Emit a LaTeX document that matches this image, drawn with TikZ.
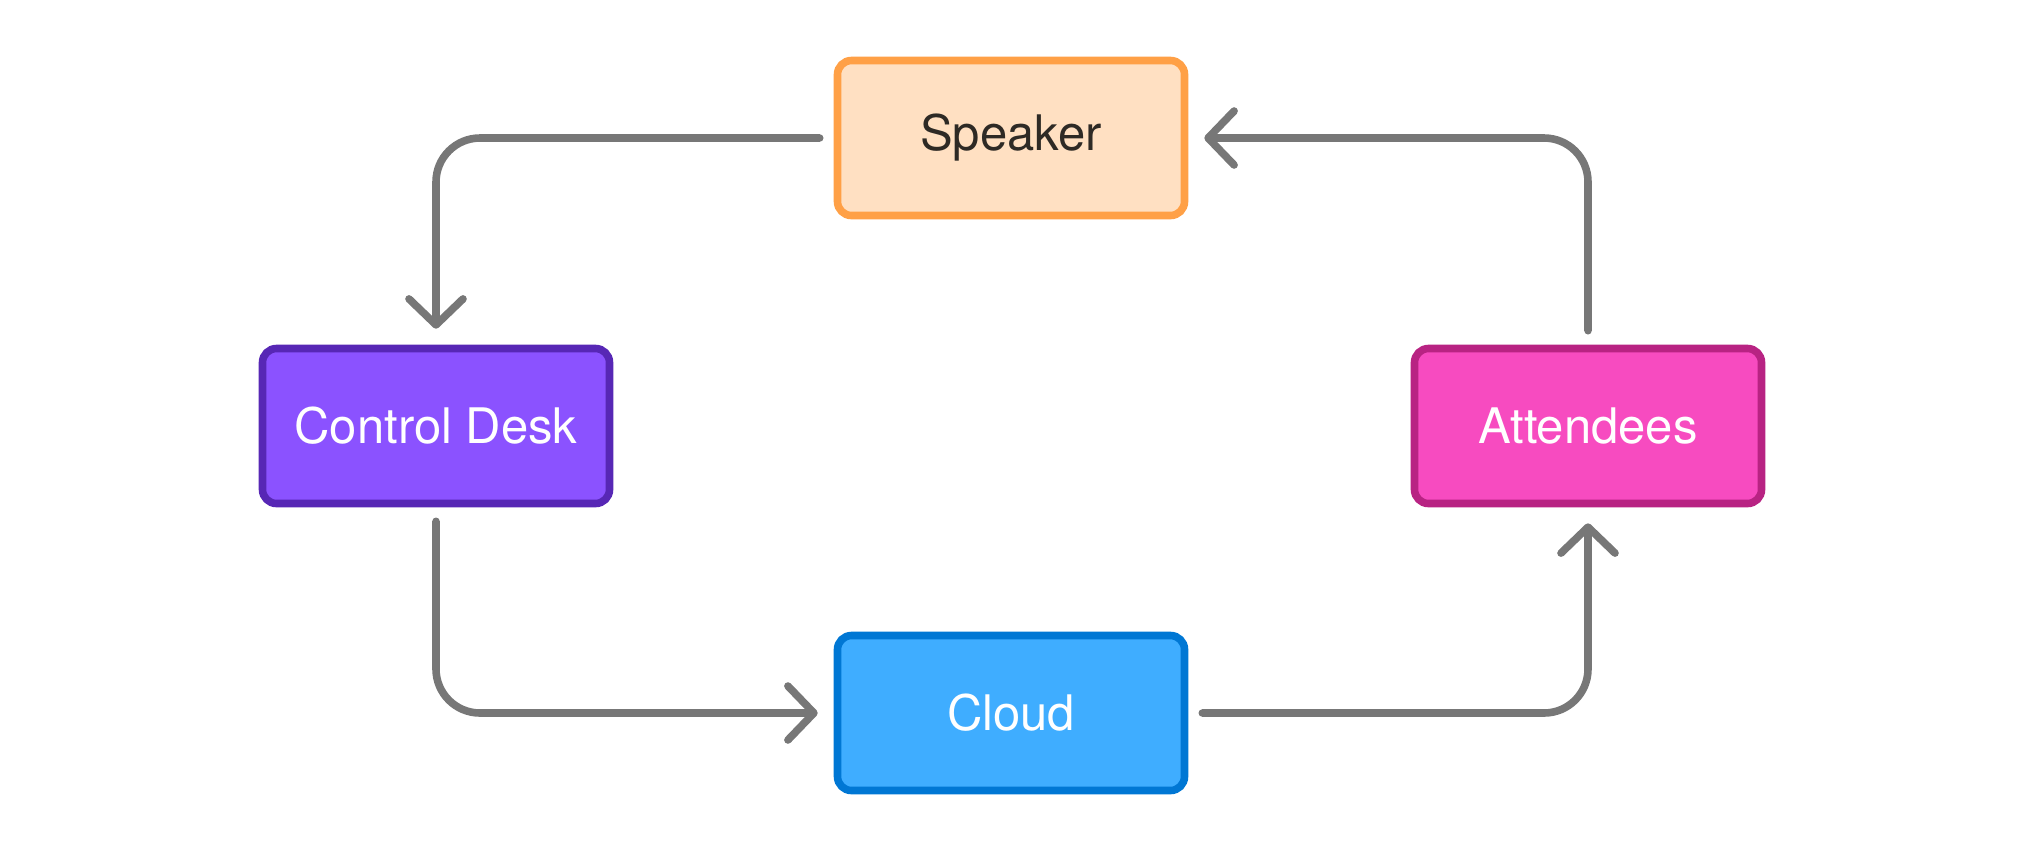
\documentclass[tikz,border=0pt]{standalone}
\usepackage{fontspec}
\setmainfont{TeX Gyre Heros}
\usepackage{tikz}
\usetikzlibrary{arrows.meta}
\definecolor{spkfill}{HTML}{FFE0C2}
\definecolor{spkline}{HTML}{FFA046}
\definecolor{deskfill}{HTML}{8B52FF}
\definecolor{deskline}{HTML}{5727B5}
\definecolor{attfill}{HTML}{F74BC0}
\definecolor{attline}{HTML}{B82383}
\definecolor{cloudfill}{HTML}{3FADFF}
\definecolor{cloudline}{HTML}{0077D4}
\definecolor{flowgray}{HTML}{777777}
\definecolor{darktext}{HTML}{2E2A25}

\begin{document}
\begin{tikzpicture}[x=0.5pt,y=-0.5pt,
		box/.style={draw,line width=3.8pt,rounded corners=7pt,minimum width=173.5pt,minimum height=77.5pt,
			font=\fontsize{24.5}{29}\selectfont,text=white},
		flow/.style={draw=flowgray,line width=3.8pt,line cap=round,line join=round,rounded corners=22pt,
			-{Straight Barb[length=13pt,width=27pt,line cap=round,line join=round]},
			shorten <=7pt,shorten >=8pt}]
		% frame of the whole picture
		\useasboundingbox (0,0) rectangle (2024,859);
		\node[box,fill=spkfill,draw=spkline,text=darktext] (speaker) at (1011,138) {Speaker};
		\node[box,fill=deskfill,draw=deskline] (desk) at (436,426) {Control Desk};
		\node[box,fill=attfill,draw=attline] (attend) at (1588,426) {Attendees};
		\node[box,fill=cloudfill,draw=cloudline] (cloud) at (1011,713) {Cloud};
		% the loop
		\draw[flow] (speaker.west) -| (desk.north);
		\draw[flow] (desk.south) |- (cloud.west);
		\draw[flow] (cloud.east) -| (attend.south);
		\draw[flow] (attend.north) |- (speaker.east);
	\end{tikzpicture}
\end{document}
